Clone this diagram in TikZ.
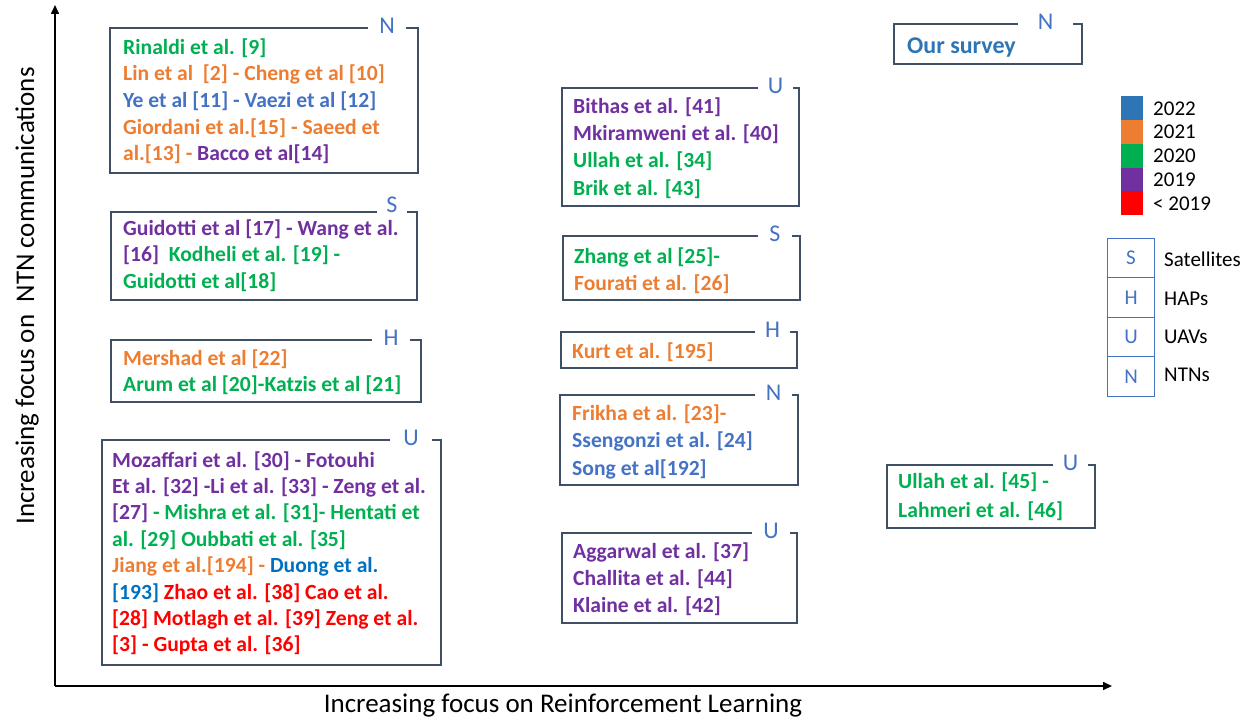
\documentclass[tikz,border=0pt]{standalone}
\usepackage{fontspec}
\setmainfont{Carlito}
\usetikzlibrary{arrows.meta}

% year colours
\definecolor{y22}{RGB}{46,117,182}
\definecolor{y21}{RGB}{237,125,49}
\definecolor{y20}{RGB}{0,176,80}
\definecolor{y19}{RGB}{112,48,160}
\definecolor{yold}{RGB}{255,0,0}
\definecolor{blueA}{RGB}{68,114,196}
\definecolor{blueD}{RGB}{0,112,192}
\definecolor{framegray}{RGB}{64,80,100}

\tikzset{
  frame/.style={draw=framegray, line width=1.3pt},
  tag/.style={inner sep=0pt, text=blueA, font=\fontsize{24}{24}\selectfont},
  refs/.style={anchor=north west, inner sep=0pt, align=left,
               font=\fontsize{21.6}{#1}\selectfont\bfseries},
  refs/.default=26.6,
  axis/.style={line width=1.6pt, -{Triangle[length=9pt,width=8pt]}},
  axislabel/.style={inner sep=0pt, font=\fontsize{27}{27}\selectfont},
  swatch/.style={anchor=north west, inner sep=0pt, minimum width=22pt, minimum height=23.8pt},
  keybox/.style={draw=blueA, line width=1.1pt, inner sep=0pt, minimum width=47pt,
                 minimum height=39.5pt, anchor=north west, text=blueA,
                 font=\fontsize{21}{21}\selectfont},
  keytext/.style={anchor=base west, inner sep=0pt, font=\fontsize{21}{21}\selectfont}
}

% frame with a gap in its top edge holding a category letter
% #1 name, #2 x1, #3 y1, #4 x2, #5 y2, #6 gap left, #7 gap right, #8 letter,
% #9 lift of the letter above the top edge
\newcommand\tagframe[9]{%
  \draw[frame] (#6,#3) -- (#2,#3) -- (#2,#5) -- (#4,#5) -- (#4,#3) -- (#7,#3);
  \node[tag] (#1) at ({(#6+#7)/2},{#3-#9}) {#8};
}

\begin{document}
\begin{tikzpicture}[x=1pt,y=-1pt]
\useasboundingbox (0,0) rectangle (1257,717);

% axes
\coordinate (o) at (55,686);
\coordinate (ytop) at (55,5);
\coordinate (xend) at (1112,686);
\draw[axis] (o) -- (ytop);
\draw[axis] (o) -- (xend);
\node[axislabel, rotate=90] (ylab) at (27,296) {Increasing focus on\ \ NTN communications};
\node[axislabel, anchor=base] (xlab) at (563,712) {Increasing focus on Reinforcement Learning};

% left column
\tagframe{tN1}{110}{28}{418}{173}{368}{406}{N}{2}
\node[refs] (n1) at (123,35.4) {\strut\textcolor{y20}{Rinaldi et al. [9]}\\
  \textcolor{y21}{Lin et al\ \ [2] - Cheng et al [10]}\\
  \textcolor{blueA}{Ye et al [11] - Vaezi et al [12]}\\
  \textcolor{y21}{Giordani et al.[15] - Saeed et}\\
  \textcolor{y21}{al.[13] -} \textcolor{y19}{Bacco et al[14]}};

\tagframe{tS1}{111}{212}{417}{300}{377}{407}{S}{7}
\node[refs] (s1) at (123,216.4) {\strut\textcolor{y19}{Guidotti et al [17] - Wang et al.}\\
  \textcolor{y19}{[16]}\ \ \textcolor{y20}{Kodheli et al. [19] -}\\
  \textcolor{y20}{Guidotti et al[18]}};

\tagframe{tH1}{111}{340}{421}{402}{372}{410}{H}{2}
\node[refs] (h1) at (123,346.4) {\strut\textcolor{y21}{Mershad et al [22]}\\
  \textcolor{y20}{Arum et al [20]-Katzis et al [21]}};

\tagframe{tU1}{102}{440}{441}{665}{390}{432}{U}{2}
\node[refs=26.4] (u1) at (112,448.5) {\strut\textcolor{y19}{Mozaffari et al. [30] - Fotouhi}\\
  \textcolor{y19}{Et al. [32] -Li et al. [33] - Zeng et al.}\\
  \textcolor{y19}{[27]} \textcolor{y20}{- Mishra et al. [31]- Hentati et}\\
  \textcolor{y20}{al. [29] Oubbati et al. [35]}\\
  \textcolor{y21}{Jiang et al.[194] -} \textcolor{blueD}{Duong et al.}\\
  \textcolor{blueD}{[193]} \textcolor{yold}{Zhao et al. [38] Cao et al.}\\
  \textcolor{yold}{[28] Motlagh et al. [39] Zeng et al.}\\
  \textcolor{yold}{[3] - Gupta et al. [36]}};

% middle column
\tagframe{tU2}{562}{88}{799}{206}{758}{793}{U}{2}
\node[refs=27.3] (u2) at (573,93.9) {\strut\textcolor{y19}{Bithas et al. [41]}\\
  \textcolor{y19}{Mkiramweni et al. [40]}\\
  \textcolor{y20}{Ullah et al. [34]}\\
  \textcolor{y20}{Brik et al. [43]}};

\tagframe{tS2}{563}{236}{800}{300}{758}{792}{S}{2}
\node[refs=27] (s2) at (574,244.1) {\strut\textcolor{y20}{Zhang et al [25]-}\\
  \textcolor{y21}{Fourati et al. [26]}};

\tagframe{tH2}{561}{332}{797}{368}{755}{790}{H}{2}
\node[refs] (h2) at (572,339.4) {\strut\textcolor{y21}{Kurt et al. [195]}};

\tagframe{tN2}{560}{395}{798}{485}{755}{792}{N}{2}
\node[refs=27.5] (n2) at (572,400.75) {\strut\textcolor{y21}{Frikha et al. [23]-}\\
  \textcolor{blueA}{Ssengonzi et al. [24]}\\
  \textcolor{blueA}{Song et al[192]}};

\tagframe{tU3}{562}{533}{797}{623}{752}{790}{U}{2}
\node[refs=27] (u3) at (573,539.1) {\strut\textcolor{y19}{Aggarwal et al. [37]}\\
  \textcolor{y19}{Challita et al. [44]}\\
  \textcolor{y19}{Klaine et al. [42]}};

% right column
\tagframe{tN3}{894}{24}{1082}{64}{1018}{1073}{N}{2}
\node[anchor=base west, inner sep=0pt, text=y22, font=\fontsize{24}{24}\selectfont\bfseries]
  (ours) at (907,53) {Our survey};

\tagframe{tU4}{887}{465}{1095}{528}{1053}{1088}{U}{2}
\node[refs=29] (u4) at (898,467.7) {\strut\textcolor{y20}{Ullah et al. [45] -}\\
  \textcolor{y20}{Lahmeri et al. [46]}};

% year key
\node[swatch, fill=y22]  (k22) at (1121,96) {};
\node[swatch, fill=y21]  (k21) at (1121,119.8) {};
\node[swatch, fill=y20]  (k20) at (1121,143.6) {};
\node[swatch, fill=y19]  (k19) at (1121,167.4) {};
\node[swatch, fill=yold] (kold) at (1121,191.2) {};
\node[keytext] (l22) at (1153,115) {2022};
\node[keytext] (l21) at (1153,138.5) {2021};
\node[keytext] (l20) at (1153,162) {2020};
\node[keytext] (l19) at (1153,186) {2019};
\node[keytext] (lold) at (1153,210) {< 2019};

% category key
\node[keybox] (ks) at (1107,237.5) {S};
\node[keybox] (kh) at (1107,277) {H};
\node[keybox] (ku) at (1107,316.5) {U};
\node[keybox] (kn) at (1107,356) {N};
\node[keytext] (lsat) at (1164,266) {Satellites};
\node[keytext] (lhap) at (1164,305) {HAPs};
\node[keytext] (luav) at (1164,343) {UAVs};
\node[keytext] (lntn) at (1164,381) {NTNs};
\end{tikzpicture}
\end{document}
